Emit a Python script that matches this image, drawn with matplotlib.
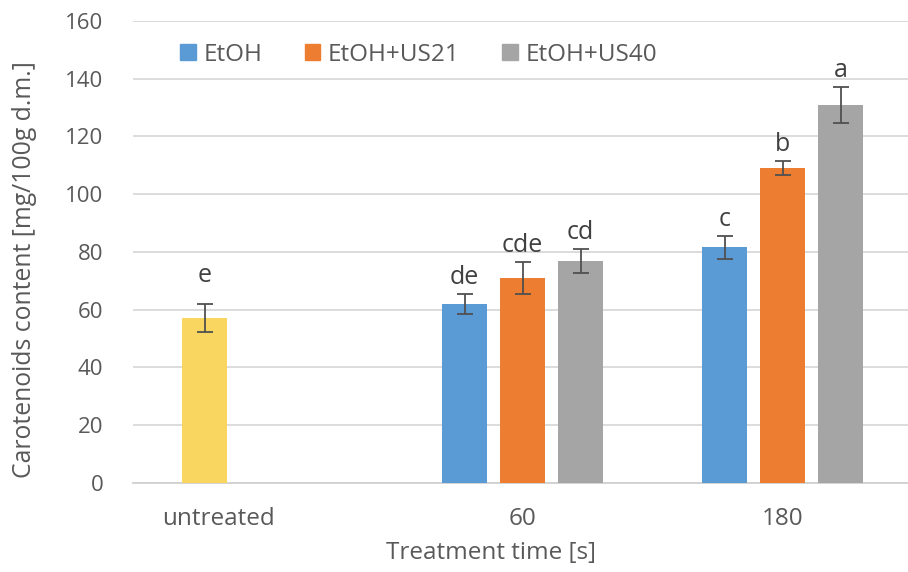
import numpy as np
import matplotlib.pyplot as plt
from matplotlib.patches import Patch

plt.rcParams['font.family'] = ['Open Sans', 'DejaVu Sans']

# Carotenoid content [mg/100g d.m.] per treatment time
categories = ['untreated', '60', '180']
untreated_val = 57.1
untreated_err = 4.8
untreated_letter = 'e'

series_names = ['EtOH', 'EtOH+US21', 'EtOH+US40']
etoh = [62.0, 81.7]
etoh_err = [3.6, 4.0]
etoh_letters = ['de', 'c']
us21 = [71.0, 109.1]
us21_err = [5.7, 2.5]
us21_letters = ['cde', 'b']
us40 = [76.9, 130.9]
us40_err = [4.2, 6.2]
us40_letters = ['cd', 'a']

colors = ['#5B9BD5', '#ED7D31', '#A5A5A5']
yellow = '#F9D65F'
text_col = '#595959'
err_col = '#505050'

fig = plt.figure(figsize=(9.08, 5.72), dpi=100)
ax = fig.add_axes([0.146, 0.1556, 0.859, 0.8077])

x = np.arange(len(categories))
step = 0.223
width = 0.173
err_kw = dict(ecolor=err_col, elinewidth=1.3, capsize=6, capthick=1.3)

def letter(xp, top, s, gap=7):
    ax.annotate(s, (xp, top), xytext=(0, gap), textcoords='offset points',
                ha='center', va='baseline', fontsize=18, color='#404040')

# untreated control sits in the first slot of its group
ax.bar(x[0] - step, untreated_val, width, color=yellow, yerr=untreated_err,
       error_kw=err_kw, zorder=3)
letter(x[0] - step, untreated_val + untreated_err, untreated_letter, gap=16)

groups = [(etoh, etoh_err, etoh_letters), (us21, us21_err, us21_letters),
          (us40, us40_err, us40_letters)]
for i, (vals, errs, lets) in enumerate(groups):
    xs = x[1:] + (i - 1) * step
    ax.bar(xs, vals, width, color=colors[i], yerr=errs, error_kw=err_kw,
           zorder=3)
    for xp, v, e, s in zip(xs, vals, errs, lets):
        letter(xp, v + e, s)

ax.set_xlim(-0.5, 2.5)
ax.set_ylim(0, 160)
ax.set_yticks(np.arange(0, 161, 20))
ax.yaxis.grid(True, color='#D9D9D9', linewidth=1.3, zorder=0)
ax.set_axisbelow(True)
for sp in ['top', 'right', 'left']:
    ax.spines[sp].set_visible(False)
ax.spines['bottom'].set_color('#D0D0D0')
ax.spines['bottom'].set_linewidth(1.3)

ax.set_xticks([x[0] - 0.171, x[1], x[2]])
ax.set_xticklabels(categories)
ax.tick_params(axis='both', length=0, labelcolor=text_col)
ax.tick_params(axis='x', pad=17, labelsize=17.5)
ax.tick_params(axis='y', pad=21, labelsize=16)

ax.set_xlabel('Treatment time [s]', fontsize=17.5, color=text_col)
ax.xaxis.set_label_coords(0.4596, -0.125)
ax.set_ylabel('Carotenoids content [mg/100g d.m.]', fontsize=17.8,
              color=text_col)
ax.yaxis.set_label_coords(-0.122, 0.461)

handles = [Patch(color=c) for c in colors]
ax.legend(handles, series_names, loc='upper left', ncol=3,
          bbox_to_anchor=(0.033, 1.0), frameon=False, fontsize=17.5,
          labelcolor=text_col, handlelength=0.65, handleheight=0.65,
          handletextpad=0.3, columnspacing=1.75)

fig.savefig('out.png', dpi=100)
